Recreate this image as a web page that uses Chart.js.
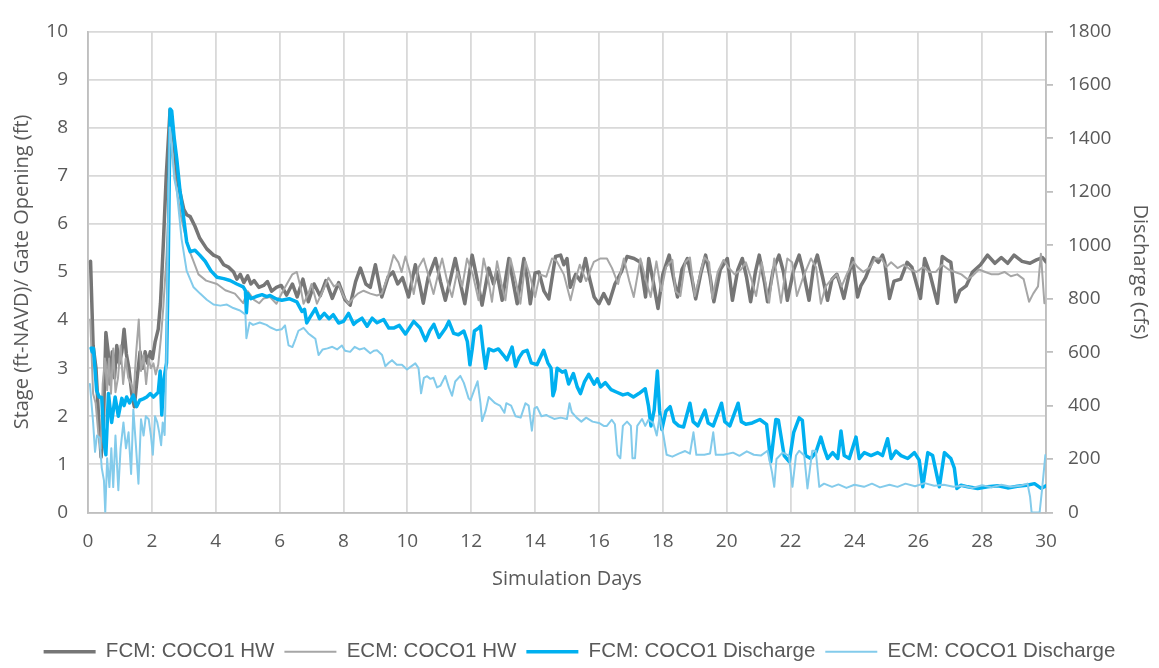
<!DOCTYPE html>
<html>
<head>
<meta charset="utf-8">
<script src="https://cdn.jsdelivr.net/npm/chart.js@4.4.1/dist/chart.umd.min.js"></script>
<style>
  html, body { margin: 0; padding: 0; background: #fff; }
  #wrap { width: 1159px; height: 668px; }
</style>
</head>
<body>
<div id="wrap"><canvas id="stage-chart" width="1159" height="668"></canvas></div>
<script>
// Series as [simulation day, value] pairs; stage in ft, discharge in cfs
const fcmHw = [
  [0.08,5.22],[0.16,3.47],[0.25,3.0],[0.33,2.0],[0.41,1.15],[0.48,1.8],[0.56,3.74],[0.63,3.34],[0.69,2.67],[0.76,3.34],
  [0.83,2.8],[0.9,3.47],[0.98,3.1],[1.06,3.34],[1.13,3.81],[1.2,3.3],[1.28,3.0],[1.37,2.47],[1.45,2.2],[1.54,2.8],
  [1.63,3.34],[1.71,3.0],[1.79,3.34],[1.87,3.1],[1.95,3.34],[2.02,3.2],[2.1,3.54],[2.2,3.81],[2.27,4.35],[2.36,5.6],
  [2.45,7.0],[2.57,8.37],[2.65,8.0],[2.78,7.0],[2.9,6.6],[3.0,6.3],[3.09,6.19],[3.2,6.15],[3.35,5.95],[3.5,5.7],
  [3.72,5.48],[3.93,5.35],[4.1,5.3],[4.25,5.15],[4.4,5.1],[4.56,5.0],[4.66,4.85],[4.77,4.95],[4.88,4.78],[5.0,4.92],
  [5.1,4.75],[5.2,4.82],[5.35,4.68],[5.5,4.72],[5.62,4.8],[5.75,4.6],[5.9,4.68],[6.05,4.72],[6.22,4.52],[6.4,4.75],
  [6.55,4.48],[6.73,4.85],[6.9,4.38],[7.08,4.75],[7.27,4.5],[7.45,4.82],[7.65,4.45],[7.85,4.78],[8.05,4.42],[8.21,4.31],
  [8.38,4.8],[8.53,5.08],[8.7,4.75],[8.84,4.68],[9.0,5.15],[9.2,4.48],[9.4,4.9],[9.55,5.0],[9.7,4.75],[9.85,4.88],
  [10.04,4.48],[10.25,5.15],[10.4,4.7],[10.5,4.35],[10.65,4.88],[10.88,5.28],[11.04,4.8],[11.19,4.41],[11.35,4.85],[11.5,5.28],
  [11.65,4.8],[11.8,4.34],[12.03,5.35],[12.2,4.8],[12.34,4.31],[12.55,5.08],[12.7,4.75],[12.8,5.0],[12.97,4.41],[13.18,5.28],
  [13.34,4.7],[13.44,4.34],[13.65,5.28],[13.75,4.88],[13.85,4.34],[14.0,4.98],[14.12,5.0],[14.28,4.6],[14.43,4.44],[14.64,5.32],
  [14.8,5.35],[14.9,5.15],[15.0,5.28],[15.1,4.68],[15.27,4.95],[15.42,4.81],[15.58,5.28],[15.7,4.88],[15.85,4.48],[16.0,4.34],
  [16.15,4.55],[16.31,4.34],[16.5,4.75],[16.7,5.0],[16.88,5.32],[17.1,5.28],[17.3,5.2],[17.46,4.48],[17.56,5.28],[17.7,4.8],
  [17.85,4.24],[18.0,4.95],[18.2,5.35],[18.33,4.9],[18.46,4.48],[18.6,5.05],[18.77,5.28],[18.9,4.9],[19.03,4.44],[19.2,5.0],
  [19.34,5.35],[19.48,4.9],[19.6,4.38],[19.8,5.05],[20.02,5.28],[20.12,4.75],[20.18,4.41],[20.35,5.05],[20.49,5.28],[20.62,4.9],
  [20.75,4.38],[20.9,5.0],[21.02,5.35],[21.18,4.8],[21.28,4.38],[21.46,5.05],[21.64,5.35],[21.78,5.0],[21.9,4.41],[22.1,5.05],
  [22.27,5.35],[22.4,5.0],[22.58,4.41],[22.72,5.1],[22.84,5.35],[23.0,4.9],[23.16,4.41],[23.3,4.85],[23.45,4.95],[23.55,4.75],
  [23.67,4.45],[23.94,5.28],[24.1,4.48],[24.2,4.71],[24.35,4.88],[24.6,5.3],[24.75,5.2],[24.88,5.35],[24.95,5.2],[25.1,4.45],
  [25.24,4.81],[25.45,4.85],[25.65,5.2],[25.8,5.1],[26.07,4.45],[26.2,5.28],[26.35,5.0],[26.6,4.35],[26.75,5.32],[26.9,5.25],
  [27.02,5.2],[27.17,4.38],[27.3,4.61],[27.5,4.71],[27.7,5.0],[27.95,5.15],[28.17,5.35],[28.4,5.18],[28.6,5.3],[28.8,5.18],
  [29.0,5.35],[29.25,5.22],[29.5,5.18],[29.7,5.25],[29.89,5.3],[30.0,5.21]
];

const ecmHw = [
  [0.07,4.01],[0.16,2.47],[0.24,2.27],[0.33,1.6],[0.4,1.33],[0.46,2.67],[0.53,3.2],[0.6,2.54],[0.66,3.2],[0.72,2.47],
  [0.79,3.41],[0.86,2.5],[0.94,2.8],[1.02,3.47],[1.1,2.67],[1.18,3.2],[1.26,2.8],[1.35,2.67],[1.43,2.47],[1.51,3.34],
  [1.59,4.01],[1.66,2.94],[1.74,3.27],[1.82,2.67],[1.9,3.2],[1.97,3.0],[2.05,3.1],[2.12,2.87],[2.2,3.07],[2.28,3.61],
  [2.36,4.28],[2.46,5.35],[2.6,7.7],[2.7,7.1],[2.78,6.69],[2.9,6.2],[3.0,5.89],[3.2,5.4],[3.46,4.95],[3.7,4.82],
  [4.04,4.75],[4.3,4.62],[4.6,4.55],[4.86,4.35],[5.0,4.6],[5.2,4.42],[5.36,4.35],[5.5,4.45],[5.7,4.48],[5.9,4.34],
  [6.1,4.6],[6.28,4.81],[6.4,4.95],[6.54,5.0],[6.65,4.7],[6.75,4.34],[6.9,4.55],[7.0,4.75],[7.17,4.34],[7.35,4.6],
  [7.53,4.88],[7.7,4.7],[7.85,4.75],[8.0,4.5],[8.16,4.34],[8.3,4.45],[8.45,4.55],[8.63,4.61],[8.84,4.55],[9.05,4.51],
  [9.2,4.55],[9.41,4.95],[9.57,5.35],[9.72,5.2],[9.82,5.0],[9.94,5.32],[10.08,5.0],[10.2,4.54],[10.35,5.1],[10.51,5.28],
  [10.65,4.95],[10.82,4.54],[10.98,5.0],[11.09,5.28],[11.25,4.8],[11.4,4.48],[11.56,5.0],[11.72,4.7],[11.87,5.28],[12.05,4.95],
  [12.23,4.41],[12.39,5.28],[12.52,4.9],[12.65,4.38],[12.81,5.22],[12.95,4.75],[13.07,4.41],[13.23,5.28],[13.4,4.8],[13.54,4.34],
  [13.7,5.22],[13.85,4.9],[14.0,4.48],[14.15,4.95],[14.35,4.9],[14.53,5.28],[14.68,5.22],[14.9,4.95],[15.11,4.41],[15.25,4.81],
  [15.4,5.15],[15.6,4.81],[15.84,5.21],[16.05,5.28],[16.25,5.28],[16.41,5.08],[16.6,4.75],[16.78,5.28],[16.95,4.81],[17.09,4.48],
  [17.3,5.28],[17.45,4.88],[17.62,4.48],[17.8,5.22],[17.95,4.6],[18.1,5.1],[18.3,5.25],[18.4,4.6],[18.55,4.5],[18.7,5.2],
  [18.85,5.3],[19.0,4.5],[19.15,4.9],[19.3,5.3],[19.45,5.2],[19.55,4.45],[19.72,5.0],[19.9,5.25],[20.05,5.1],[20.25,4.95],
  [20.45,5.05],[20.6,5.2],[20.75,4.9],[20.92,4.5],[21.1,5.2],[21.33,4.36],[21.49,5.28],[21.7,4.36],[21.9,5.28],[22.05,5.2],
  [22.2,4.5],[22.4,4.9],[22.64,5.28],[22.8,5.1],[22.95,4.34],[23.1,4.7],[23.25,4.82],[23.45,4.95],[23.6,4.7],[23.78,4.98],
  [23.97,5.21],[24.1,5.1],[24.28,5.0],[24.5,5.1],[24.65,5.28],[24.85,5.28],[25.0,5.1],[25.15,5.2],[25.35,5.08],[25.55,5.15],
  [25.75,5.05],[25.95,5.0],[26.15,5.1],[26.35,5.0],[26.55,5.0],[26.75,5.15],[26.95,5.05],[27.15,5.0],[27.35,4.95],[27.54,4.85],
  [27.7,4.92],[27.9,5.05],[28.1,5.0],[28.3,4.95],[28.5,4.95],[28.7,5.0],[28.9,4.91],[29.1,4.95],[29.3,4.85],[29.47,4.38],
  [29.6,4.55],[29.75,4.7],[29.84,5.38],[29.95,4.35]
];

const fcmQ = [
  [0.1,615],[0.13,601],[0.17,614],[0.27,457],[0.35,432],[0.43,430],[0.5,265],[0.56,216],[0.64,445],[0.74,337],
  [0.85,432],[0.95,360],[1.06,427],[1.13,400],[1.21,432],[1.3,410],[1.42,439],[1.52,396],[1.62,420],[1.73,425],
  [1.84,432],[1.95,445],[2.05,432],[2.2,450],[2.26,529],[2.31,365],[2.38,500],[2.46,560],[2.51,900],[2.57,1510],
  [2.62,1503],[2.7,1400],[2.78,1323],[2.88,1204],[2.99,1107],[3.09,1012],[3.2,976],[3.35,981],[3.5,963],[3.67,940],
  [3.85,904],[4.04,880],[4.25,875],[4.45,868],[4.66,855],[4.86,844],[4.93,830],[4.96,747],[5.0,819],[5.1,800],
  [5.26,808],[5.45,815],[5.6,808],[5.7,812],[5.9,799],[6.07,794],[6.3,800],[6.54,788],[6.7,752],[6.78,760],
  [6.85,709],[6.95,730],[7.12,763],[7.25,725],[7.4,745],[7.55,725],[7.68,740],[7.85,709],[8.0,715],[8.16,745],
  [8.32,704],[8.42,715],[8.58,727],[8.74,697],[8.9,727],[9.05,710],[9.26,722],[9.42,690],[9.57,690],[9.75,700],
  [9.94,668],[10.2,715],[10.4,690],[10.57,643],[10.7,680],[10.83,704],[10.99,655],[11.2,690],[11.3,715],[11.45,670],
  [11.6,665],[11.77,679],[11.88,640],[11.96,553],[12.03,610],[12.1,679],[12.24,691],[12.29,697],[12.37,612],[12.45,540],
  [12.55,612],[12.7,605],[12.85,612],[13.0,590],[13.12,571],[13.28,619],[13.39,547],[13.5,580],[13.62,601],[13.75,607],
  [13.88,560],[14.06,553],[14.27,607],[14.4,560],[14.5,540],[14.56,437],[14.62,460],[14.69,540],[14.85,525],[14.95,530],
  [15.05,481],[15.2,520],[15.32,470],[15.42,445],[15.55,490],[15.68,517],[15.85,480],[15.95,500],[16.05,470],[16.2,486],
  [16.38,460],[16.56,450],[16.75,440],[16.9,445],[17.08,432],[17.25,445],[17.45,463],[17.55,400],[17.63,324],[17.73,383],
  [17.83,529],[17.9,380],[17.97,311],[18.1,380],[18.23,396],[18.35,340],[18.5,324],[18.65,320],[18.85,409],[18.95,340],
  [19.1,324],[19.32,383],[19.42,335],[19.58,324],[19.84,409],[19.94,340],[20.1,324],[20.36,409],[20.46,340],[20.6,330],
  [20.8,335],[21.04,348],[21.25,330],[21.38,190],[21.54,348],[21.62,345],[21.8,213],[21.96,190],[22.1,300],[22.27,354],
  [22.37,345],[22.47,213],[22.63,202],[22.79,224],[22.95,282],[23.06,236],[23.16,202],[23.32,224],[23.48,202],[23.58,305],
  [23.68,213],[23.84,202],[24.05,282],[24.15,202],[24.31,224],[24.52,213],[24.73,224],[24.88,213],[25.04,276],[25.15,202],
  [25.3,230],[25.46,213],[25.67,202],[25.88,224],[26.03,196],[26.14,96],[26.3,224],[26.45,213],[26.66,96],[26.82,224],
  [27.02,202],[27.13,166],[27.21,90],[27.34,102],[27.55,96],[27.86,90],[28.17,96],[28.5,100],[28.8,92],[29.1,98],
  [29.4,102],[29.64,108],[29.85,90],[30.0,100]
];

const ecmQ = [
  [0.06,481],[0.16,337],[0.22,227],[0.28,288],[0.36,280],[0.43,167],[0.5,119],[0.54,0],[0.6,203],[0.67,95],
  [0.73,240],[0.79,95],[0.86,288],[0.95,83],[1.02,240],[1.11,337],[1.19,240],[1.27,300],[1.35,144],[1.42,385],
  [1.5,252],[1.58,108],[1.66,349],[1.74,288],[1.81,360],[1.9,349],[1.97,288],[2.03,216],[2.1,360],[2.17,337],
  [2.23,300],[2.29,252],[2.34,337],[2.4,290],[2.45,540],[2.5,1000],[2.56,1440],[2.62,1380],[2.7,1250],[2.78,1204],
  [2.93,1024],[3.09,904],[3.3,844],[3.51,819],[3.72,796],[3.93,778],[4.14,774],[4.35,778],[4.55,765],[4.76,756],
  [4.86,747],[4.93,740],[4.96,652],[5.06,711],[5.17,702],[5.38,711],[5.59,702],[5.7,693],[5.9,682],[6.07,686],
  [6.17,700],[6.28,625],[6.4,619],[6.5,650],[6.59,680],[6.75,691],[6.9,670],[7.01,660],[7.12,650],[7.22,589],
  [7.35,610],[7.5,614],[7.65,620],[7.8,610],[7.95,625],[8.05,605],[8.21,601],[8.35,620],[8.5,610],[8.65,615],
  [8.84,596],[8.95,605],[9.05,607],[9.21,589],[9.31,547],[9.42,560],[9.52,570],[9.67,553],[9.83,553],[9.99,535],
  [10.1,545],[10.25,558],[10.35,540],[10.43,446],[10.52,504],[10.62,510],[10.72,500],[10.82,504],[10.93,468],[11.04,475],
  [11.19,511],[11.3,468],[11.4,437],[11.5,490],[11.66,511],[11.77,485],[11.92,427],[11.98,420],[12.1,460],[12.2,491],
  [12.29,409],[12.34,342],[12.45,380],[12.55,432],[12.75,409],[12.9,400],[13.04,373],[13.1,409],[13.25,400],[13.39,360],
  [13.55,355],[13.7,409],[13.8,400],[13.9,306],[13.98,390],[14.06,395],[14.2,360],[14.35,365],[14.43,360],[14.6,350],
  [14.8,355],[15.0,350],[15.08,409],[15.15,375],[15.3,355],[15.45,340],[15.6,355],[15.8,340],[16.0,335],[16.15,324],
  [16.25,324],[16.4,347],[16.5,330],[16.58,216],[16.67,203],[16.75,324],[16.88,340],[17.0,324],[17.05,203],[17.13,203],
  [17.2,324],[17.35,350],[17.45,324],[17.55,347],[17.7,335],[17.81,288],[17.9,360],[18.02,288],[18.12,216],[18.3,209],
  [18.5,220],[18.7,230],[18.85,220],[18.96,300],[19.05,216],[19.3,216],[19.48,221],[19.58,300],[19.66,216],[19.9,216],
  [20.2,224],[20.4,212],[20.63,229],[20.85,216],[21.07,213],[21.28,231],[21.42,150],[21.49,96],[21.56,200],[21.75,224],
  [21.95,213],[22.06,96],[22.17,213],[22.27,231],[22.43,213],[22.53,90],[22.68,231],[22.79,231],[22.9,96],[23.05,108],
  [23.3,96],[23.5,105],[23.75,92],[24.0,104],[24.3,96],[24.55,108],[24.8,94],[25.1,104],[25.35,96],[25.6,108],
  [25.9,98],[26.2,110],[26.5,100],[26.8,104],[27.1,96],[27.4,100],[27.7,92],[28.0,102],[28.3,94],[28.6,104],
  [28.9,96],[29.2,100],[29.42,108],[29.5,60],[29.55,0],[29.8,0],[29.88,90],[29.98,215]
];

const seriesLabels = ['FCM: COCO1 HW', 'ECM: COCO1 HW', 'FCM: COCO1 Discharge', 'ECM: COCO1 Discharge'];

const GRID = '#d9d9d9';
const AXIS = '#bfbfbf';
const TEXT = '#595959';

Chart.defaults.font.family = "'Open Sans', sans-serif";
Chart.defaults.color = TEXT;

function toPoints(pairs) {
    return pairs.map(p => ({ x: p[0], y: p[1] }));
}

function lineSet(label, pairs, axis, color, width, order) {
    return {
        label: label,
        data: toPoints(pairs),
        yAxisID: axis,
        borderColor: color,
        backgroundColor: color,
        borderWidth: width,
        order: order,
        fill: false
    };
}

const ctx = document.getElementById('stage-chart').getContext('2d');
new Chart(ctx, {
    type: 'line',
    data: {
        datasets: [
            lineSet(seriesLabels[0], fcmHw, 'y', '#767676', 3.5, 4),
            lineSet(seriesLabels[1], ecmHw, 'y', '#a6a6a6', 2, 3),
            lineSet(seriesLabels[2], fcmQ, 'y2', '#00b0f0', 3.5, 2),
            lineSet(seriesLabels[3], ecmQ, 'y2', '#83cbeb', 2, 1)
        ]
    },
    options: {
        responsive: false,
        animation: false,
        elements: {
            point: { radius: 0, hoverRadius: 0 },
            line: { tension: 0, borderJoinStyle: 'round', borderCapStyle: 'round' }
        },
        layout: { padding: { top: 15, left: 0, right: 0, bottom: -4 } },
        plugins: {
            tooltip: { enabled: false },
            legend: {
                position: 'bottom',
                labels: {
                    usePointStyle: true,
                    pointStyle: 'line',
                    pointStyleWidth: 52,
                    padding: 10,
                    color: TEXT,
                    font: { family: "'Liberation Sans', sans-serif", size: 20.5 },
                    sort: (a, b) => a.datasetIndex - b.datasetIndex
                }
            }
        },
        scales: {
            x: {
                type: 'linear',
                min: 0,
                max: 30,
                afterFit: s => { s.height = 119; },
                ticks: { stepSize: 2, padding: 18, font: { size: 19 } },
                grid: { color: GRID, lineWidth: 1.8, drawTicks: false },
                border: { color: AXIS, width: 1.8 },
                title: {
                    display: true,
                    text: 'Simulation Days',
                    font: { size: 20 },
                    padding: { top: 0, bottom: 40 }
                }
            },
            y: {
                position: 'left',
                min: 0,
                max: 10,
                afterFit: s => { s.width = 88; },
                ticks: { stepSize: 1, padding: 20, font: { size: 19 } },
                grid: { color: GRID, lineWidth: 1.8, drawTicks: false },
                border: { color: AXIS, width: 1.8 },
                title: {
                    display: true,
                    text: 'Stage (ft-NAVD)/ Gate Opening (ft)',
                    font: { size: 20 },
                    padding: { top: 10, bottom: 0 }
                }
            },
            y2: {
                position: 'right',
                min: 0,
                max: 1800,
                afterFit: s => { s.width = 113; },
                ticks: {
                    stepSize: 200,
                    padding: 15,
                    font: { size: 19 },
                    callback: v => String(v)
                },
                grid: { drawOnChartArea: false, color: AXIS, lineWidth: 1.8, tickLength: 7 },
                border: { color: AXIS, width: 1.8 },
                title: {
                    display: true,
                    text: 'Discharge (cfs)',
                    font: { size: 20 },
                    padding: { top: 7, bottom: 0 }
                }
            }
        }
    }
});
</script>
</body>
</html>
